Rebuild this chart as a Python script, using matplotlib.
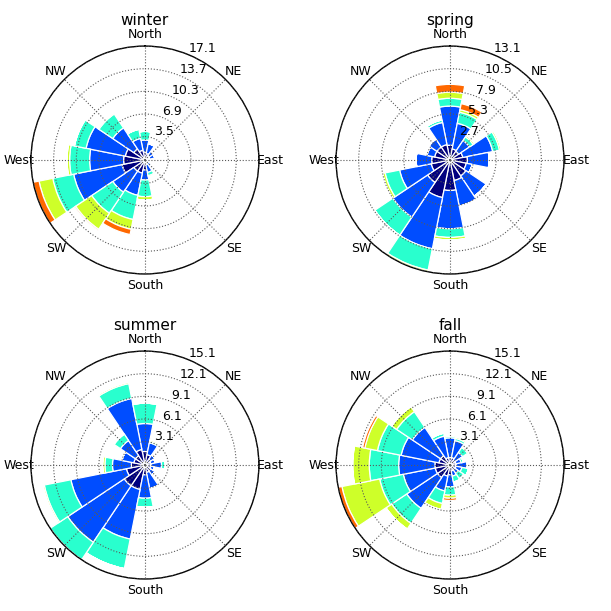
import numpy as np
import matplotlib
matplotlib.use("Agg")
import matplotlib.pyplot as plt

# 16 wind directions, clockwise from north
directions = ['N', 'NNE', 'NE', 'ENE', 'E', 'ESE', 'SE', 'SSE',
              'S', 'SSW', 'SW', 'WSW', 'W', 'WNW', 'NW', 'NNW']
compass_labels = ['North', 'NE', 'East', 'SE', 'South', 'SW', 'West', 'NW']
seasons = ['winter', 'spring', 'summer', 'fall']

# frequency (%) per speed bin, one row per direction: bins 1..5
winter = [
    [1.2, 1.8, 1.3, 0.0, 0.0],
    [1.0, 1.5, 0.0, 0.0, 0.0],
    [0.8, 0.8, 0.0, 0.0, 0.0],
    [0.7, 0.8, 0.0, 0.0, 0.0],
    [0.4, 0.3, 0.0, 0.0, 0.0],
    [0.4, 0.3, 0.0, 0.0, 0.0],
    [0.6, 0.6, 0.0, 0.0, 0.0],
    [0.7, 1.2, 0.5, 0.2, 0.0],
    [1.5, 1.5, 2.5, 0.5, 0.0],
    [2.0, 3.4, 3.7, 1.5, 0.8],
    [2.0, 3.8, 3.8, 2.9, 0.2],
    [3.5, 7.4, 3.2, 2.1, 0.9],
    [3.2, 5.1, 3.0, 0.4, 0.0],
    [3.0, 6.0, 1.8, 0.0, 0.0],
    [2.0, 3.8, 2.5, 0.2, 0.0],
    [1.5, 1.8, 1.4, 0.0, 0.0],
]
spring = [
    [1.7, 4.5, 0.9, 0.7, 0.9],
    [1.3, 3.0, 1.3, 0.3, 0.7],
    [1.2, 1.5, 0.5, 0.2, 0.0],
    [1.5, 3.5, 0.8, 0.2, 0.0],
    [2.0, 2.5, 0.0, 0.0, 0.0],
    [1.9, 0.7, 0.0, 0.0, 0.0],
    [2.2, 2.8, 0.0, 0.0, 0.0],
    [2.4, 3.0, 0.0, 0.0, 0.0],
    [3.5, 4.4, 1.0, 0.3, 0.0],
    [4.4, 6.0, 2.5, 0.2, 0.0],
    [3.1, 4.8, 2.5, 0.0, 0.0],
    [2.2, 3.7, 1.7, 0.3, 0.0],
    [2.1, 1.8, 0.0, 0.0, 0.0],
    [1.8, 0.9, 0.0, 0.0, 0.0],
    [1.8, 1.1, 0.0, 0.0, 0.0],
    [1.8, 2.6, 0.3, 0.0, 0.0],
]
summer = [
    [1.8, 3.7, 2.7, 0.0, 0.0],
    [1.4, 1.6, 0.2, 0.2, 0.0],
    [0.9, 0.7, 0.0, 0.0, 0.0],
    [0.8, 0.6, 0.0, 0.0, 0.0],
    [0.8, 1.4, 0.5, 0.0, 0.0],
    [0.8, 0.5, 0.0, 0.0, 0.0],
    [0.9, 0.7, 0.0, 0.0, 0.0],
    [1.0, 2.2, 0.0, 0.0, 0.0],
    [1.3, 3.1, 1.2, 0.0, 0.0],
    [3.3, 6.7, 4.0, 0.0, 0.0],
    [3.3, 9.0, 2.8, 0.0, 0.0],
    [2.5, 7.5, 3.6, 0.2, 0.0],
    [1.8, 2.5, 1.0, 0.3, 0.0],
    [1.5, 1.6, 0.0, 0.0, 0.0],
    [1.5, 2.4, 1.0, 0.1, 0.0],
    [2.1, 6.9, 2.0, 0.2, 0.0],
]
fall = [
    [1.0, 2.6, 0.2, 0.2, 0.0],
    [1.0, 2.3, 0.3, 0.2, 0.0],
    [0.8, 1.2, 0.8, 0.2, 0.0],
    [0.8, 0.7, 0.3, 0.0, 0.0],
    [0.8, 1.5, 0.0, 0.0, 0.0],
    [0.8, 0.8, 0.9, 0.0, 0.0],
    [0.8, 0.5, 0.9, 0.0, 0.0],
    [0.8, 0.7, 0.8, 0.0, 0.0],
    [1.3, 1.6, 1.1, 0.4, 0.3],
    [1.5, 2.0, 1.7, 0.8, 0.0],
    [2.0, 4.9, 2.4, 0.9, 0.0],
    [2.0, 4.3, 3.2, 5.1, 0.5],
    [2.0, 4.8, 3.9, 2.2, 0.0],
    [1.5, 5.1, 3.2, 1.7, 0.3],
    [1.5, 4.5, 2.5, 0.8, 0.0],
    [1.0, 2.9, 0.4, 0.0, 0.0],
]
season_data = [winter, spring, summer, fall]

colors = plt.cm.jet(np.linspace(0, 1, 6))

fig = plt.figure(figsize=(6.11, 6.11), dpi=100)
# axes boxes (left, bottom, width, height) in figure fraction
boxes = [(0.0507, 0.5516, 0.373, 0.373), (0.5500, 0.5516, 0.373, 0.373),
         (0.0507, 0.0524, 0.373, 0.373), (0.5500, 0.0524, 0.373, 0.373)]

theta = np.deg2rad(np.arange(len(directions)) * 22.5)
width = np.deg2rad(22.5)

for name, data, box in zip(seasons, season_data, boxes):
    ax = fig.add_axes(box, projection='polar')
    ax.set_theta_zero_location('N')
    ax.set_theta_direction(-1)
    vals = np.array(data)
    bottom = np.zeros(len(directions))
    for b in range(vals.shape[1]):
        ax.bar(theta, vals[:, b], width=width, bottom=bottom,
               color=colors[b], edgecolor='white', linewidth=0.9, zorder=2)
        bottom += vals[:, b]
    rmax = round(bottom.max(), 1)
    ax.set_ylim(0, rmax)
    radii = np.linspace(0.1, rmax, 6)[1:]
    ax.set_rgrids(radii, ['%.1f' % r for r in radii], fontsize=9)
    ax.set_rlabel_position(22.5)
    ax.set_thetagrids(np.arange(0, 360, 45), compass_labels, fontsize=9)
    ax.tick_params(axis='x', pad=-2)
    ax.grid(True, linestyle=':', color='0.35', linewidth=0.8)
    ax.set_axisbelow(False)
    ax.spines['polar'].set_linewidth(1.0)
    ax.set_title(name, fontsize=11, y=1.092, pad=0)

plt.savefig('out.png', dpi=100)
